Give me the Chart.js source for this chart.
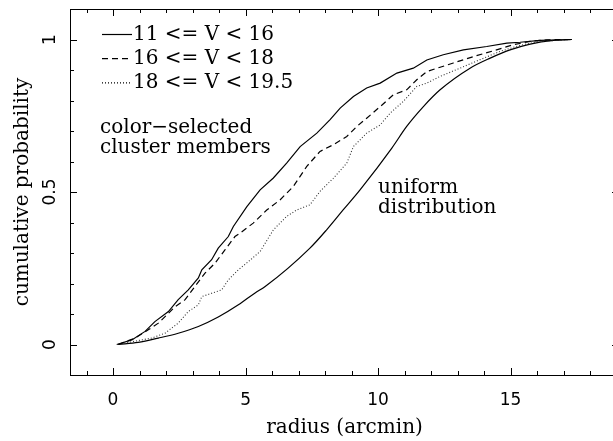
<!DOCTYPE html>
<html>
<head>
<meta charset="utf-8">
<title>cumulative probability vs radius</title>
<script src="https://cdn.jsdelivr.net/npm/chart.js@4.4.1/dist/chart.umd.min.js"></script>
<style>
  html, body { margin: 0; padding: 0; background: #fff; overflow: hidden; }
  #wrap { width: 613px; height: 441px; overflow: hidden; }
</style>
</head>
<body>
<div id="wrap"><canvas id="myChart" width="640" height="441"></canvas></div>
<script>
'use strict';

// 11 <= V < 16
let radiusBright = [ 0.14, 0.71, 1.21, 1.58, 2.09, 2.46, 2.84, 3.22, 3.35, 3.72, 3.97, 4.35, 4.54, 5.05, 5.55, 6.05, 6.55, 7.06, 7.69, 8.19, 8.57, 9.07, 9.57, 10.08, 10.71, 11.33, 11.84, 12.46, 13.22, 14.10, 14.86, 15.36, 16.11, 17.31 ];
let probBright = [ 0, 0.015, 0.043, 0.075, 0.108, 0.147, 0.179, 0.218, 0.245, 0.278, 0.316, 0.354, 0.387, 0.452, 0.507, 0.546, 0.595, 0.649, 0.693, 0.737, 0.775, 0.813, 0.841, 0.857, 0.890, 0.906, 0.933, 0.950, 0.966, 0.977, 0.988, 0.991, 0.997, 1.0 ];

// 16 <= V < 18
let radiusMid = [ 0.20, 0.83, 1.33, 1.71, 2.03, 2.34, 2.72, 3.09, 3.47, 3.85, 4.23, 4.60, 4.79, 5.29, 5.80, 6.30, 6.80, 7.31, 7.81, 8.31, 8.82, 9.20, 9.57, 10.08, 10.58, 11.08, 11.46, 11.84, 12.34, 12.84, 13.60, 14.35, 15.11, 15.74, 16.37, 17.31 ];
let probMid = [ 0, 0.021, 0.048, 0.070, 0.097, 0.124, 0.147, 0.190, 0.234, 0.267, 0.311, 0.354, 0.365, 0.398, 0.441, 0.474, 0.518, 0.584, 0.633, 0.655, 0.682, 0.715, 0.742, 0.780, 0.819, 0.835, 0.868, 0.895, 0.909, 0.923, 0.944, 0.963, 0.983, 0.994, 0.999, 1.0 ];

// 18 <= V < 19.5
let radiusFaint = [ 0.20, 0.95, 1.46, 1.96, 2.46, 2.84, 3.22, 3.35, 3.72, 4.10, 4.35, 4.73, 5.11, 5.55, 6.05, 6.55, 6.93, 7.43, 7.81, 8.31, 8.82, 9.07, 9.57, 10.08, 10.45, 10.95, 11.46, 11.84, 12.34, 13.09, 13.85, 14.60, 15.36, 16.11, 17.31 ];
let probFaint = [ 0, 0.013, 0.021, 0.037, 0.070, 0.108, 0.130, 0.157, 0.168, 0.179, 0.212, 0.245, 0.272, 0.305, 0.376, 0.420, 0.441, 0.458, 0.502, 0.545, 0.595, 0.649, 0.693, 0.720, 0.758, 0.797, 0.846, 0.857, 0.879, 0.906, 0.934, 0.961, 0.981, 0.994, 1.0 ];

// uniform distribution
let radiusUniform = [ 0.20, 0.95, 1.71, 2.46, 3.22, 3.97, 4.73, 5.36, 5.74, 7.43, 8.06, 8.69, 9.32, 10.52, 11.08, 11.71, 12.34, 13.47, 14.23, 14.98, 15.74, 16.62, 17.31 ];
let probUniform = [ 0, 0.007, 0.021, 0.037, 0.059, 0.090, 0.130, 0.169, 0.190, 0.316, 0.376, 0.442, 0.507, 0.644, 0.715, 0.780, 0.835, 0.906, 0.939, 0.966, 0.985, 0.997, 1.0 ];

let seriesLabels = [ '11 <= V < 16', '16 <= V < 18', '18 <= V < 19.5' ];
let xTickValues = [ 0, 5, 10, 15 ];
let yTickValues = [ 0, 0.5, 1 ];
let yTickLabels = [ '0', '0.5', '1' ];

function toPoints( xs, ys ) {
  let pts = [];
  for( let i = 0; i < xs.length; i++ ) {
    pts.push( { x: xs[i], y: ys[i] } );
  }
  return pts;
}

function line( ctx, x1, y1, x2, y2 ) {
  ctx.beginPath();
  ctx.moveTo( x1, y1 );
  ctx.lineTo( x2, y2 );
  ctx.stroke();
}

// frame, inward ticks, labels, legend and notes (PGPLOT look)
let framePlugin = {
  id: 'frame',
  afterDraw( chart ) {
    let ctx = chart.ctx;
    let a = chart.chartArea;
    let xs = chart.scales.x;
    let ys = chart.scales.y;

    ctx.save();
    ctx.strokeStyle = '#000';
    ctx.lineWidth = 1;
    ctx.setLineDash( [] );
    ctx.strokeRect( a.left + 0.5, a.top + 0.5, a.right - a.left, a.bottom - a.top );

    for( let v = -1; v <= 19; v++ ) {
      let px = Math.round( xs.getPixelForValue( v ) ) + 0.5;
      let len = v % 5 === 0 ? 7 : 4;
      line( ctx, px, a.bottom, px, a.bottom - len );
      line( ctx, px, a.top, px, a.top + len );
    }
    for( let i = 0; i <= 10; i++ ) {
      let py = Math.round( ys.getPixelForValue( i / 10 ) ) + 0.5;
      let len = i % 5 === 0 ? 7 : 4;
      line( ctx, a.left, py, a.left + len, py );
      line( ctx, a.right, py, a.right - len, py );
    }

    ctx.fillStyle = '#000';
    ctx.font = '17px "DejaVu Sans"';
    ctx.textAlign = 'center';
    ctx.textBaseline = 'alphabetic';
    xTickValues.forEach( v => {
      ctx.fillText( String( v ), xs.getPixelForValue( v ), 405 );
    } );
    yTickValues.forEach( ( v, i ) => {
      ctx.save();
      ctx.translate( 55, ys.getPixelForValue( v ) );
      ctx.rotate( -Math.PI / 2 );
      ctx.fillText( yTickLabels[i], 0, 0 );
      ctx.restore();
    } );

    ctx.font = '20px "DejaVu Serif"';
    ctx.fillText( 'radius (arcmin)', ( a.left + a.right ) / 2, 433 );
    ctx.save();
    ctx.translate( 28, ( a.top + a.bottom ) / 2 );
    ctx.rotate( -Math.PI / 2 );
    ctx.fillText( 'cumulative probability', 0, 0 );
    ctx.restore();

    // legend
    ctx.textAlign = 'left';
    for( let i = 0; i < seriesLabels.length; i++ ) {
      let ds = chart.data.datasets[i];
      let base = 40 + i * 24.2;
      ctx.setLineDash( ds.borderDash || [] );
      ctx.lineWidth = ds.borderWidth;
      line( ctx, 102, base - 5.5, 132, base - 5.5 );
      ctx.setLineDash( [] );
      ctx.fillText( seriesLabels[i], 133, base );
    }

    ctx.fillText( 'color\u2212selected', 100, 133 );
    ctx.fillText( 'cluster members', 100, 153 );
    ctx.fillText( 'uniform', 378, 193 );
    ctx.fillText( 'distribution', 378, 213 );
    ctx.restore();
  }
};

let ctx = document.getElementById( 'myChart' ).getContext( '2d' );

let myChart = new Chart( ctx, {
  type: 'line',
  data: {
    datasets: [ {
      label: seriesLabels[0],
      data: toPoints( radiusBright, probBright ),
      borderColor: '#000',
      borderWidth: 1.2
    }, {
      label: seriesLabels[1],
      data: toPoints( radiusMid, probMid ),
      borderColor: '#000',
      borderWidth: 1.2,
      borderDash: [ 6, 4 ]
    }, {
      label: seriesLabels[2],
      data: toPoints( radiusFaint, probFaint ),
      borderColor: '#333',
      borderWidth: 1.1,
      borderDash: [ 1, 2 ]
    }, {
      label: 'uniform distribution',
      data: toPoints( radiusUniform, probUniform ),
      borderColor: '#000',
      borderWidth: 1.2,
      cubicInterpolationMode: 'monotone'
    } ]
  },
  options: {
    responsive: false,
    animation: false,
    devicePixelRatio: 1,
    layout: { padding: { left: 70, top: 9, right: 21, bottom: 66 } },
    elements: { point: { radius: 0 }, line: { fill: false } },
    plugins: {
      legend: { display: false },
      tooltip: { enabled: false }
    },
    scales: {
      x: { type: 'linear', min: -1.623, max: 19.09, display: false },
      y: { type: 'linear', min: -0.1, max: 1.1, display: false }
    }
  },
  plugins: [ framePlugin ]
} );
</script>
</body>
</html>
